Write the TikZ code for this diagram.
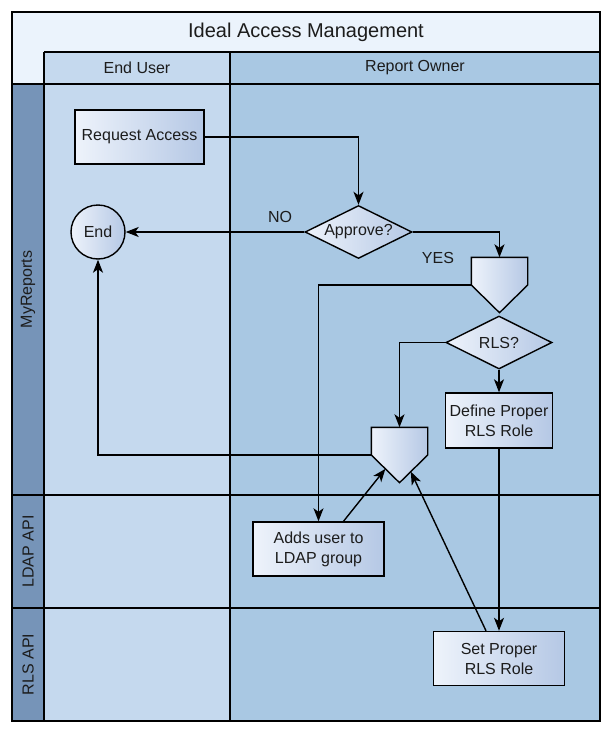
\documentclass[tikz,border=0pt]{standalone}
\usepackage{fontspec}
\setmainfont{Liberation Sans}
\usepackage{tikz}
\usetikzlibrary{shapes.geometric}
\usetikzlibrary{calc}
\usetikzlibrary{arrows.meta}
\definecolor{titlefill}{HTML}{EBF3FC}
\definecolor{labelfill}{HTML}{7694B8}
\definecolor{userfill}{HTML}{C5D9EE}
\definecolor{ownerfill}{HTML}{A9C8E3}
\definecolor{nodeL}{HTML}{EEF3FB}
\definecolor{nodeR}{HTML}{B5C8E5}
\definecolor{txt}{HTML}{1C1C1C}
\begin{document}
\begin{tikzpicture}[x=1pt,y=-1pt,line width=1.4pt,
every node/.style={font=\fontsize{16}{20}\selectfont,text=txt},
box/.style={rectangle,draw,left color=nodeL,right color=nodeR,align=center,inner sep=0pt},
dec/.style={diamond,draw,aspect=2,inner sep=0pt,left color=nodeL,right color=nodeR,minimum width=107pt,minimum height=53pt},
pg/.style={rectangle,minimum width=55pt,minimum height=54pt,inner sep=0pt},
arr/.style={-{Stealth[length=13pt,width=10pt,inset=3.5pt]}}]
\useasboundingbox (0,0) rectangle (612,736);
\fill[titlefill] (12,12) rectangle (600,84);
\fill[userfill] (44,52) rectangle (230,721);
\fill[ownerfill] (230,52) rectangle (600,721);
\foreach \i/\t/\a/\b in {1/MyReports/84/495,2/LDAP API/495/608,3/RLS API/608/721} {
\draw[fill=labelfill] (12,\a) rectangle (44,\b);
\node[rotate=90] (lane\i) at (28,{(\a+\b)/2}) {\t};
\draw (12,\b) -- (600,\b);
}
\draw (12,84) -- (600,84);
\draw (44,52) -- (600,52);
\draw (44,52) -- (44,721);
\draw (230,52) -- (230,721);
\draw (12,12) rectangle (600,721);
\node[font=\fontsize{20}{24}\selectfont] (title) at (306,32) {Ideal Access Management};
\node (hu) at (137,68) {End User};
\node (ho) at (415,68) {Report Owner};

\node[box,minimum width=129pt,minimum height=54pt] (req) at (139.5,137) {Request Access};
\node[circle,draw,left color=nodeL,right color=nodeR,minimum size=54pt,inner sep=0pt] (end) at (98,232) {End};
\node[dec] (appr) at (358.5,232) {Approve?};
\node[pg] (pt1) at (499.5,285) {};
\node[dec,minimum width=106pt] (rls) at (499,342.5) {RLS?};
\node[box,minimum width=107pt,minimum height=55pt] (def) at (499,420.5) {Define Proper\\RLS Role};
\node[pg] (pt2) at (399.5,455) {};
\node[box,minimum width=131pt,minimum height=54pt] (adds) at (318.5,549) {Adds user to\\LDAP group};
\node[box,minimum width=131pt,minimum height=54pt] (set) at (499,658.5) {Set Proper\\RLS Role};
\node (no) at (280,217) {NO};
\node (yes) at (438,258) {YES};
\foreach \p in {pt1,pt2}
\draw[left color=nodeL,right color=nodeR] (\p.north west) -- (\p.north east) -- (\p.east) -- (\p.south) -- (\p.west) -- cycle;

\draw[arr] (req) -| (appr);
\draw[arr] (appr) -- (end);
\draw[arr] (appr) -| (pt1);
\draw[arr] (pt1) -| (adds);
\draw[arr] (rls) -| (pt2);
\draw[arr] (rls) -- (def);
\draw[arr] (def) -- (set);
\draw[arr] (pt2) -| (end);
\draw[arr] ([xshift=25pt]adds.north) -- ($(pt2.west)!0.5!(pt2.south)$);
\draw[arr] ([xshift=-13pt]set.north) -- ($(pt2.east)!0.6!(pt2.south)$);
\end{tikzpicture}
\end{document}
